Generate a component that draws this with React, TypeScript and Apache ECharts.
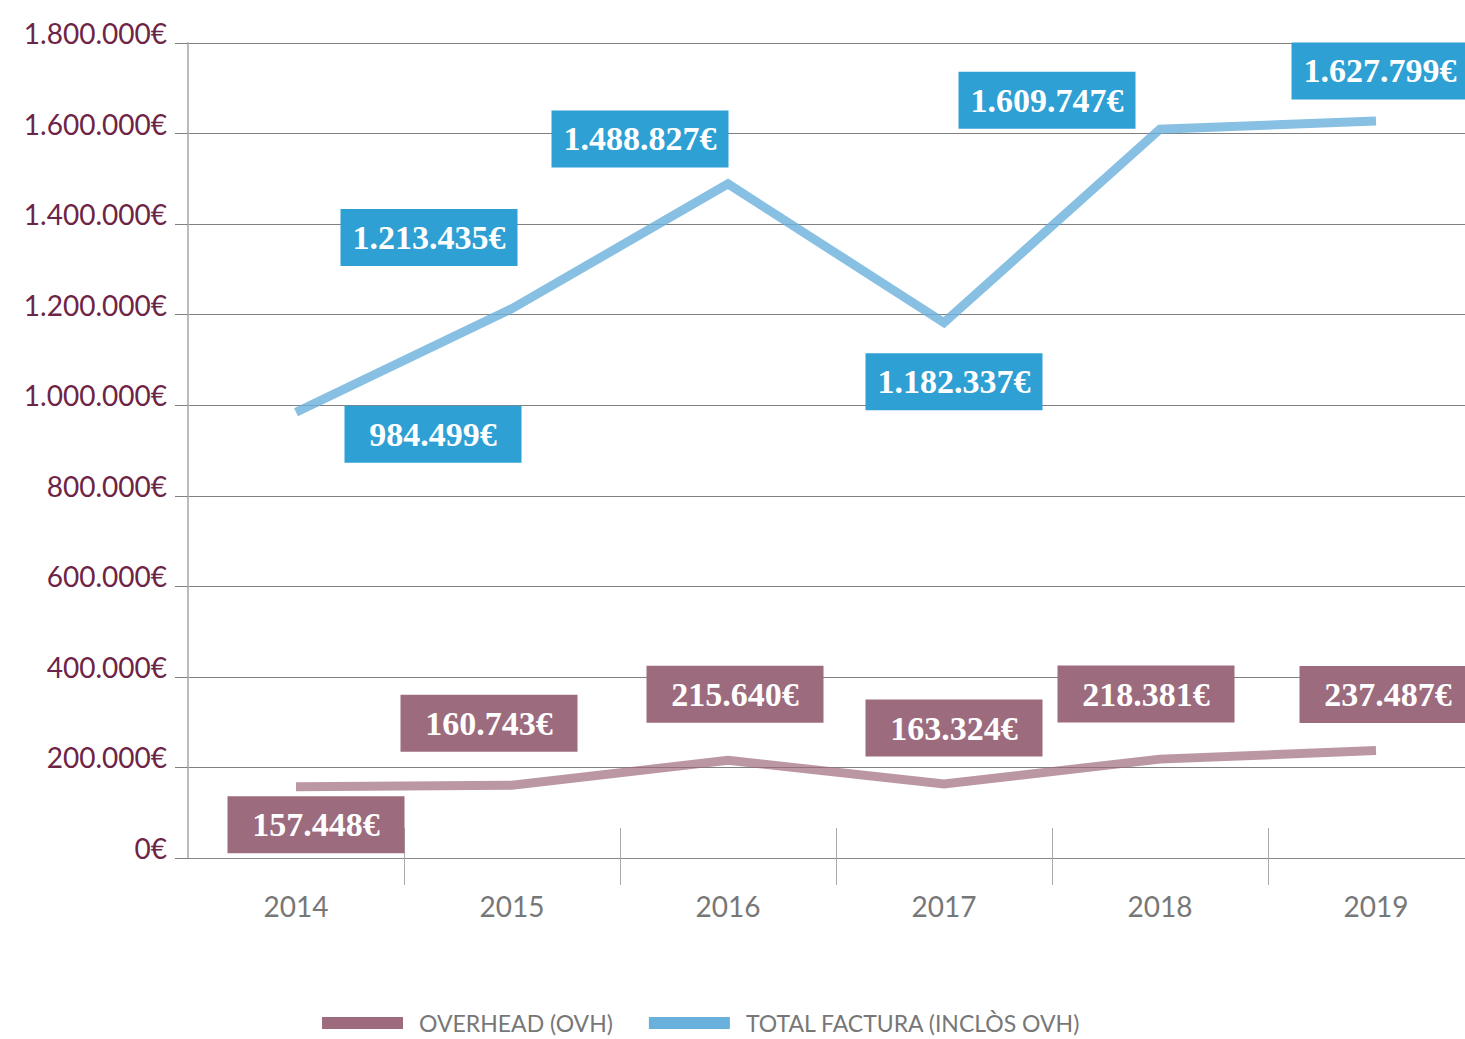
import React, { useEffect, useRef } from "react";
import * as echarts from "echarts";

const years = ["2014", "2015", "2016", "2017", "2018", "2019"];
const overhead = [157448, 160743, 215640, 163324, 218381, 237487];
const totalFactura = [984499, 1213435, 1488827, 1182337, 1609747, 1627799];
const seriesNames = ["OVERHEAD (OVH)", "TOTAL FACTURA (INCLÒS OVH)"];

// label box offsets from each point (layout only)
const overheadLabelOffsets = [[20, 38], [-23, -62], [7, -66], [10, -56], [-14, -65], [12, -56]];
const totalLabelOffsets = [[137, 22], [-83, -71], [-88, -45], [10, 59], [-113, -29], [4, -50]];

const fmt = (v: number) => String(Math.round(v)).replace(/\B(?=(\d{3})+(?!\d))/g, ".") + "€";

export default function App() {
  const ref = useRef<HTMLDivElement>(null);
  useEffect(() => {
    if (!ref.current) return;
    const chart = echarts.init(ref.current, undefined, { renderer: "svg" });
    const PINK = "#9e6b7e";
    const BLUE = "#6ab0dc";
    const mkLabel = (bg: string) => ({
      show: true,
      position: "inside",
      formatter: (p: any) => fmt(p.value),
      backgroundColor: bg,
      color: "#ffffff",
      fontFamily: "Liberation Serif",
      fontWeight: "bold",
      fontSize: 34,
      width: 177,
      height: 57,
      lineHeight: 57,
      align: "center",
      verticalAlign: "middle",
    });
    chart.setOption({
      animation: false,
      grid: { left: 188, top: 43, width: 1296, height: 815 },
      legend: {
        left: 322,
        top: 1011,
        padding: 0,
        itemWidth: 81,
        itemHeight: 12,
        itemGap: 36,
        icon: "rect",
        textStyle: { color: "#777777", fontSize: 23, fontFamily: "Lato", padding: [0, 0, 0, 11], lineHeight: 24 },
        data: [
          { name: seriesNames[0], itemStyle: { color: PINK } },
          { name: seriesNames[1], itemStyle: { color: BLUE } },
        ],
      },
      xAxis: [
        {
          type: "category",
          data: years,
          boundaryGap: true,
          axisLine: { lineStyle: { color: "#888888", width: 1 } },
          axisTick: { show: true, length: 27, lineStyle: { color: "#aaaaaa", width: 1 }, interval: (i: number) => i !== 0 },
          axisLabel: { color: "#777777", fontSize: 28, fontFamily: "Lato", margin: 34 },
          splitLine: { show: false },
        },
        {
          type: "category",
          data: years,
          position: "bottom",
          boundaryGap: true,
          axisLine: { show: false },
          axisTick: { show: true, inside: true, length: 30, lineStyle: { color: "#aaaaaa", width: 1 }, interval: (i: number) => i !== 0 },
          axisLabel: { show: false },
          splitLine: { show: false },
        },
      ],
      yAxis: {
        type: "value",
        min: 0,
        max: 1800000,
        interval: 200000,
        axisLine: { show: true, lineStyle: { color: "#bbbbbb", width: 2 } },
        axisTick: { show: true, length: 13, lineStyle: { color: "#808080", width: 1 } },
        axisLabel: {
          color: "#6e2446",
          fontSize: 28,
          fontFamily: "Lato",
          margin: 21,
          verticalAlign: "bottom",
          lineHeight: 20,
          formatter: (v: number) => fmt(v),
        },
        splitLine: { show: true, lineStyle: { color: "#808080", width: 1 } },
      },
      series: [
        {
          name: seriesNames[0],
          type: "line",
          data: overhead.map((v, i) => ({ value: v, label: { offset: overheadLabelOffsets[i] } })),
          symbol: "circle",
          symbolSize: 0,
          showSymbol: true,
          itemStyle: { color: PINK },
          lineStyle: { color: PINK, width: 9, opacity: 0.7, join: "miter" },
          label: mkLabel("#9c6b7d"),
          z: 3,
        },
        {
          name: seriesNames[1],
          type: "line",
          data: totalFactura.map((v, i) => ({ value: v, label: { offset: totalLabelOffsets[i] } })),
          symbol: "circle",
          symbolSize: 0,
          showSymbol: true,
          itemStyle: { color: BLUE },
          lineStyle: { color: BLUE, width: 9, opacity: 0.8, join: "miter" },
          label: mkLabel("#2fa0d3"),
          z: 3,
        },
      ],
    });
    return () => chart.dispose();
  }, []);
  return (
    <div style={{ position: "absolute", left: 0, top: 0, width: 1465, height: 1039, overflow: "hidden" }}>
      <div ref={ref} style={{ width: 1500, height: 1039 }} />
    </div>
  );
}
